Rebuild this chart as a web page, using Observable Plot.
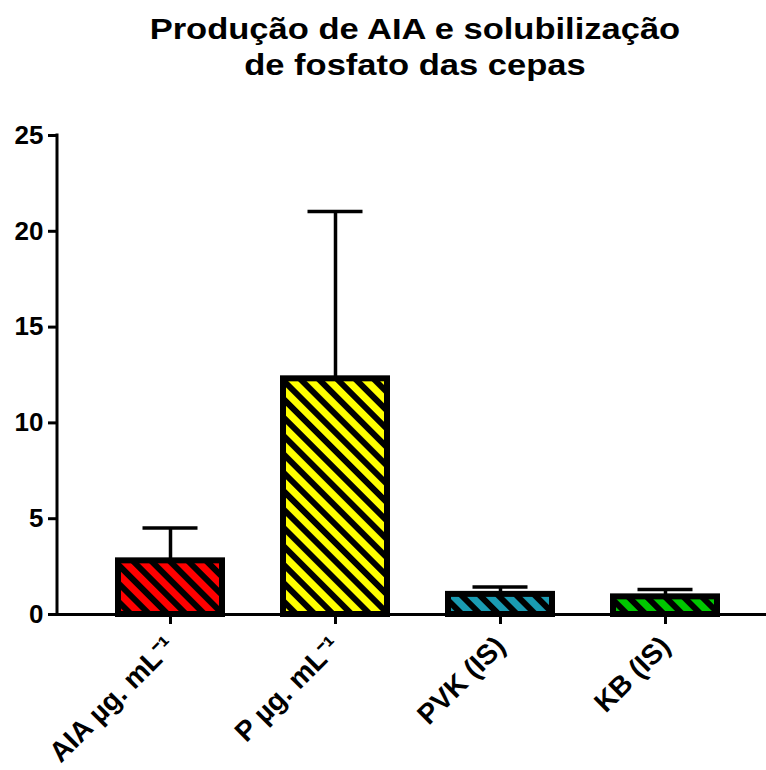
<!DOCTYPE html>
<html><head><meta charset="utf-8">
<script src="https://cdn.jsdelivr.net/npm/d3@7"></script>
<script src="https://cdn.jsdelivr.net/npm/@observablehq/plot@0.6"></script>
<style>
body{margin:0;background:#fff;font-family:"Liberation Sans",Arial,sans-serif;}
#title{width:766px;box-sizing:border-box;padding:11px 0 0 64px;text-align:center;font-size:29px;line-height:36px;font-weight:bold;color:#000;}
#title span{display:inline-block;transform:scaleX(1.19);}
#chart svg{display:block;}
</style></head><body>
<div id="title"><span>Produção de AIA e solubilização<br>de fosfato das cepas</span></div>
<div id="chart"></div>
<script>
const categories = ["AIA µg. mL⁻¹", "P µg. mL⁻¹", "PVK (IS)", "KB (IS)"];
const means = [2.8, 12.3, 1.05, 0.92];
const upperErrors = [1.72, 8.73, 0.39, 0.38];
const fillColors = ["#ff0000", "#ffff00", "#1a9bb2", "#00c800"];
const yTicks = [0, 5, 10, 15, 20, 25];

const data = categories.map((c, i) => ({
  cat: c, mean: means[i], top: means[i] + upperErrors[i], pattern: `url(#hatch${i})`
}));

const W = 766, H = 687, mL = 57, mT = 52, mB = 156;
const plot = Plot.plot({
  width: W, height: H, marginLeft: mL, marginRight: 0, marginTop: mT, marginBottom: mB,
  style: {fontFamily: "'Liberation Sans', Arial, sans-serif", background: "white", color: "black", overflow: "visible"},
  x: {domain: categories, range: [57, 777], paddingInner: 0.371, paddingOuter: 0.363, label: null},
  y: {domain: [0, 25], label: null},
  color: {type: "identity"},
  marks: [
    Plot.ruleX(data, {x: "cat", y1: "mean", y2: "top", stroke: "black", strokeWidth: 3.5}),
    Plot.tickY(data, {x: "cat", y: "top", stroke: "black", strokeWidth: 3.5, insetLeft: 24.5, insetRight: 24.5}),
    Plot.barY(data, {x: "cat", y: "mean", fill: "pattern", stroke: "black", strokeWidth: 6}),
    Plot.ruleY([0], {stroke: "black", strokeWidth: 3}),
    Plot.axisY({ticks: yTicks, tickSize: 9, tickPadding: 5, strokeWidth: 3, fontSize: 26, fontWeight: "bold", label: null}),
    Plot.axisX({tickSize: 10, tickPadding: 17, dx: 0, strokeWidth: 3, tickRotate: -45, fontSize: 28, fontWeight: "bold", label: null})
  ]
});
document.getElementById("chart").appendChild(plot);

const svg = d3.select(plot.tagName.toLowerCase() === "svg" ? plot : plot.querySelector("svg"));
const defs = svg.insert("defs", ":first-child");
fillColors.forEach((c, i) => {
  const p = defs.append("pattern").attr("id", `hatch${i}`).attr("patternUnits", "userSpaceOnUse")
    .attr("width", 13).attr("height", 13).attr("patternTransform", "rotate(-45)");
  p.append("rect").attr("width", 13).attr("height", 13).attr("fill", c);
  p.append("rect").attr("width", 6).attr("height", 13).attr("fill", "black");
});
const ys = plot.scale("y");
const yf = ys.apply ? ys.apply : d3.scaleLinear(ys.domain, ys.range);
svg.append("line").attr("x1", mL).attr("x2", mL)
  .attr("y1", yf(yTicks[yTicks.length - 1])).attr("y2", yf(0))
  .attr("stroke", "black").attr("stroke-width", 3).attr("stroke-linecap", "square");
</script>
</body></html>
